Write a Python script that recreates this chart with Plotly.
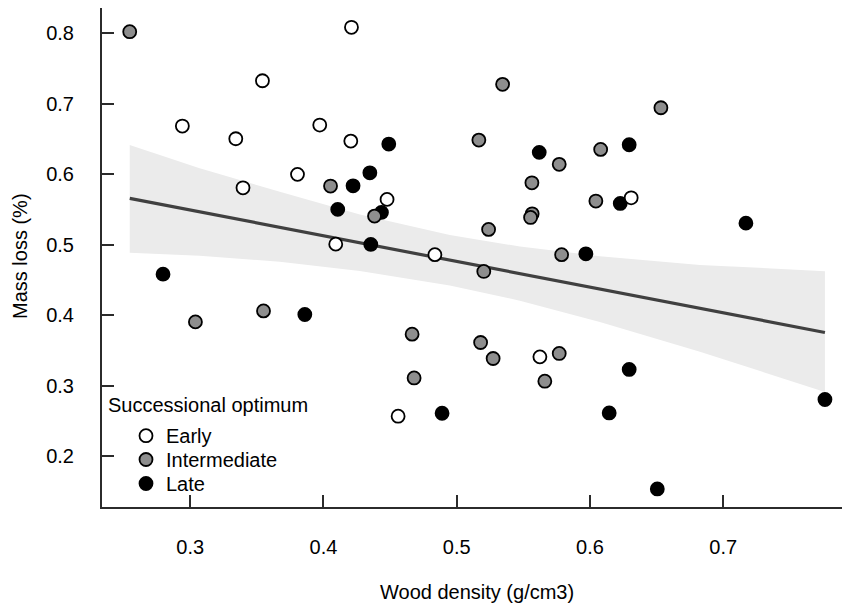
import plotly.graph_objects as go

# ---- data ----
early_x = [0.4210, 0.3542, 0.2941, 0.3342, 0.3972, 0.4205, 0.3396, 0.3805, 0.4477, 0.4092, 0.4836, 0.6309, 0.5624, 0.4560]
early_y = [0.8085, 0.7327, 0.6684, 0.6504, 0.6698, 0.6471, 0.5808, 0.5999, 0.5644, 0.5009, 0.4860, 0.5666, 0.3410, 0.2568]

inter_x = [0.2546, 0.5344, 0.5166, 0.5769, 0.5564, 0.4053, 0.4383, 0.5566, 0.5554, 0.5239, 0.5787, 0.5203,
           0.6532, 0.6080, 0.6044, 0.3039, 0.3550, 0.4665, 0.5179, 0.5273, 0.5769, 0.4680, 0.5661]
inter_y = [0.8023, 0.7276, 0.6485, 0.6141, 0.5879, 0.5833, 0.5407, 0.5439, 0.5388, 0.5218, 0.4860, 0.4622,
           0.6944, 0.6353, 0.5620, 0.3906, 0.4062, 0.3732, 0.3614, 0.3387, 0.3458, 0.3111, 0.3065]

late_x = [0.4490, 0.5619, 0.6294, 0.4222, 0.4348, 0.4107, 0.4435, 0.4355, 0.6227, 0.7170, 0.5969, 0.2796,
          0.3860, 0.4890, 0.6294, 0.6144, 0.6505, 0.7763]
late_y = [0.6429, 0.6311, 0.6419, 0.5837, 0.6021, 0.5502, 0.5459, 0.5005, 0.5587, 0.5307, 0.4872, 0.4583,
          0.4011, 0.2610, 0.3231, 0.2615, 0.1536, 0.2805]

# fitted line and confidence band
fit_x = [0.2546, 0.7763]
fit_y = [0.5658, 0.3756]
band_x = [0.2546, 0.3071, 0.3672, 0.4273, 0.4948, 0.5474, 0.6074, 0.6825, 0.7763]
band_upper = [0.6414, 0.6087, 0.5752, 0.5431, 0.5140, 0.4974, 0.4839, 0.4714, 0.4626]
band_lower = [0.4886, 0.4846, 0.4758, 0.4627, 0.4424, 0.4207, 0.3905, 0.3482, 0.2913]

x_ticks = [0.3, 0.4, 0.5, 0.6, 0.7]
y_ticks = [0.2, 0.3, 0.4, 0.5, 0.6, 0.7, 0.8]

legend_title = "Successional optimum"
legend_labels = ["Early", "Intermediate", "Late"]
legend_fills = ["white", "#8E8E8E", "black"]

FONT = "Liberation Sans, Arial, sans-serif"
W, H = 842, 608
ML, MR, MT, MB = 102, 0, 8, 101
PW, PH = W - ML - MR, H - MT - MB

def px_x(p):  # pixel x -> paper fraction
    return (p - ML) / PW

def px_y(p):  # pixel y -> paper fraction
    return (H - MB - p) / PH

fig = go.Figure()

# confidence band
fig.add_trace(go.Scatter(x=band_x + band_x[::-1], y=band_upper + band_lower[::-1],
                         fill="toself", fillcolor="#EBEBEB", line=dict(width=0),
                         mode="lines", hoverinfo="skip", showlegend=False))
# fitted line
fig.add_trace(go.Scatter(x=fit_x, y=fit_y, mode="lines",
                         line=dict(color="#404040", width=3.2), showlegend=False))

mk = dict(size=13, line=dict(color="black", width=1.8))
fig.add_trace(go.Scatter(x=late_x, y=late_y, mode="markers", name="Late", showlegend=False,
                         marker=dict(color="black", **mk)))
fig.add_trace(go.Scatter(x=inter_x, y=inter_y, mode="markers", name="Intermediate", showlegend=False,
                         marker=dict(color="#8E8E8E", **mk)))
fig.add_trace(go.Scatter(x=early_x, y=early_y, mode="markers", name="Early", showlegend=False,
                         marker=dict(color="white", **mk)))

# legend (drawn manually to match entry spacing)
leg_key_x = px_x(146)
leg_text_x = px_x(164)
leg_ys = [px_y(435.7), px_y(459.5), px_y(483.5)]
fig.add_trace(go.Scatter(x=[leg_key_x] * 3, y=leg_ys, mode="markers", xaxis="x2", yaxis="y2",
                         marker=dict(color=legend_fills, **mk), cliponaxis=False,
                         showlegend=False, hoverinfo="skip"))
annotations = [dict(text=legend_title, x=px_x(106), y=px_y(405), xref="paper", yref="paper",
                    xanchor="left", yanchor="middle", showarrow=False,
                    font=dict(size=20, color="black", family=FONT))]
for lab, yy in zip(legend_labels, leg_ys):
    annotations.append(dict(text=lab, x=leg_text_x, y=yy, xref="paper", yref="paper",
                            xanchor="left", yanchor="middle", showarrow=False,
                            font=dict(size=20, color="black", family=FONT)))
# axis titles
annotations.append(dict(text="Wood density (g/cm3)", x=px_x(477), y=px_y(592), xref="paper", yref="paper",
                        xanchor="center", yanchor="middle", showarrow=False,
                        font=dict(size=20, color="black", family=FONT)))
annotations.append(dict(text="Mass loss (%)", x=px_x(20), y=px_y(256), xref="paper", yref="paper",
                        xanchor="center", yanchor="middle", showarrow=False, textangle=-90,
                        font=dict(size=20, color="black", family=FONT)))

axis_common = dict(showline=True, linecolor="#2b2b2b", linewidth=2, ticks="inside",
                   ticklen=12, tickwidth=1.5, tickcolor="#2b2b2b", showgrid=False,
                   zeroline=False, automargin=False,
                   tickfont=dict(size=20, color="black", family=FONT))

fig.update_xaxes(range=[0.2338, 0.7891], tickvals=x_ticks, ticktext=[f"{v:.1f}" for v in x_ticks],
                 ticklabelstandoff=21, **axis_common)
fig.update_yaxes(range=[0.128, 0.8359], tickvals=y_ticks, ticktext=[f"{v:.1f}" for v in y_ticks],
                 ticklabelstandoff=22, **axis_common)

fig.update_layout(
    width=W, height=H,
    margin=dict(l=ML, r=MR, t=MT, b=MB, autoexpand=False),
    paper_bgcolor="white", plot_bgcolor="white",
    font=dict(family=FONT, size=20, color="black"),
    showlegend=False,
    annotations=annotations,
    xaxis2=dict(overlaying="x", range=[0, 1], visible=False, fixedrange=True),
    yaxis2=dict(overlaying="y", range=[0, 1], visible=False, fixedrange=True),
)

fig.write_html("out.html", config={"displayModeBar": False},
               post_script="document.body.style.margin='0';document.body.style.overflow='hidden';")
